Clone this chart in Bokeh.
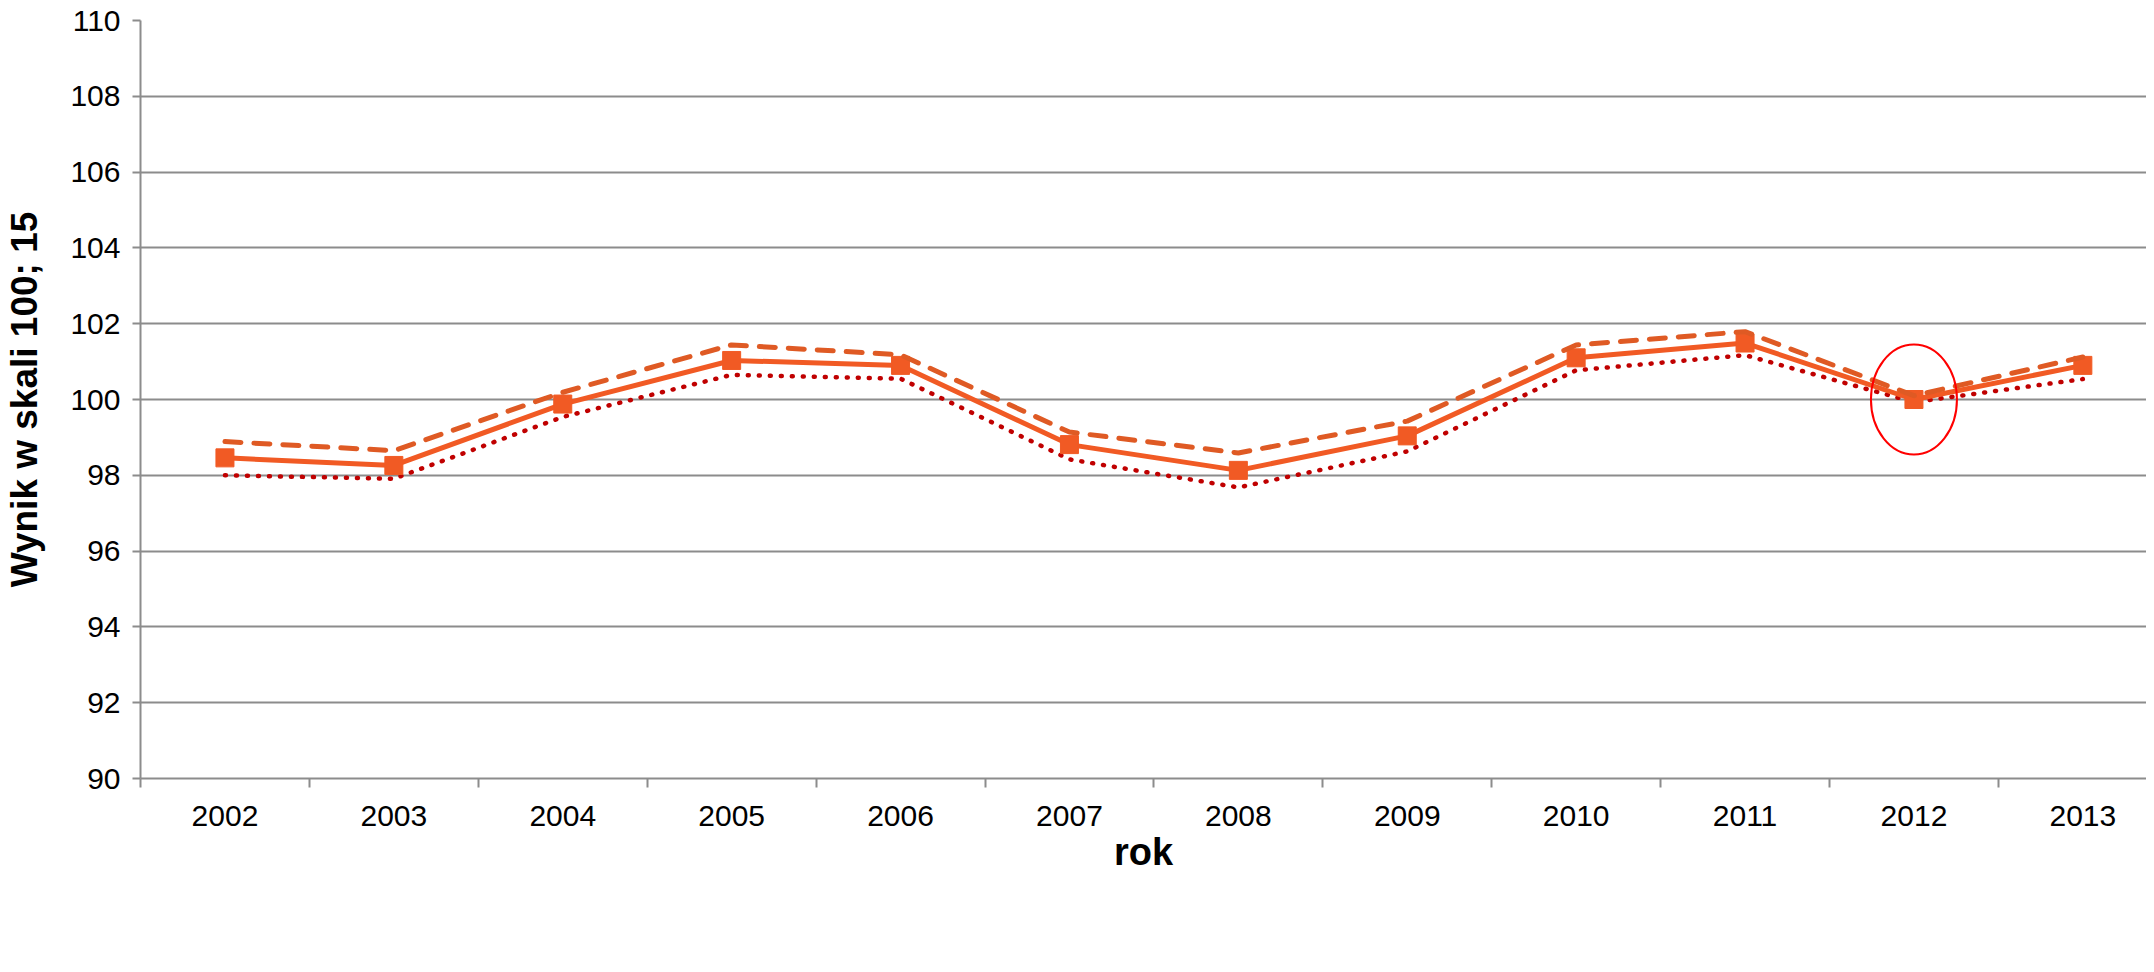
from bokeh.plotting import figure
from bokeh.models import (Range1d, FixedTicker, Legend, LegendItem, ColumnDataSource)
from bokeh.embed import file_html
from bokeh.resources import INLINE

# ---- data ----
years = ["2002", "2003", "2004", "2005", "2006", "2007",
         "2008", "2009", "2010", "2011", "2012", "2013"]
srednia = [98.46, 98.26, 99.88, 101.03, 100.90, 98.81,
           98.13, 99.04, 101.10, 101.49, 100.00, 100.90]
maks = [98.89, 98.65, 100.19, 101.44, 101.18, 99.14,
        98.59, 99.43, 101.44, 101.79, 100.10, 101.12]
minimum = [98.00, 97.91, 99.54, 100.65, 100.55, 98.42,
           97.68, 98.63, 100.77, 101.17, 99.93, 100.54]
y_ticks = [90, 92, 94, 96, 98, 100, 102, 104, 106, 108, 110]
highlight_year = "2012"

FONT = "Liberation Sans"
GRID = "#8c8c8c"

xc = [i + 0.5 for i in range(len(years))]
src = ColumnDataSource(dict(x=xc, mean=srednia, mx=maks, mn=minimum))

frame_w = 2006
cat_px = 168.9

p = figure(frame_width=frame_w, frame_height=758,
           min_border_left=140, min_border_right=0, min_border_top=20,
           min_border_bottom=0,
           x_range=Range1d(0, frame_w / cat_px), y_range=Range1d(y_ticks[0], y_ticks[-1]),
           output_backend="svg", toolbar_location=None,
           background_fill_color="white", border_fill_color="white")
p.outline_line_color = None

# y axis
p.yaxis.ticker = FixedTicker(ticks=y_ticks)
p.yaxis.axis_line_color = GRID
p.yaxis.axis_line_width = 2
p.yaxis.major_tick_line_color = GRID
p.yaxis.major_tick_line_width = 2
p.yaxis.major_tick_out = 8
p.yaxis.major_tick_in = 0
p.yaxis.minor_tick_line_color = None
p.yaxis.major_label_text_font = FONT
p.yaxis.major_label_text_font_size = "30px"
p.yaxis.major_label_text_color = "black"
p.yaxis.major_label_standoff = 12
p.yaxis.axis_label = "Wynik w skali 100; 15"
p.yaxis.axis_label_text_font = FONT
p.yaxis.axis_label_text_font_style = "bold"
p.yaxis.axis_label_text_font_size = "37px"
p.yaxis.axis_label_text_color = "black"
p.yaxis.axis_label_standoff = 22

# x axis: labels at category centres, tick marks at boundaries
p.xaxis.ticker = FixedTicker(ticks=xc, minor_ticks=list(range(len(years) + 1)))
p.xaxis.major_label_overrides = {x: y for x, y in zip(xc, years)}
p.xaxis.axis_line_color = GRID
p.xaxis.axis_line_width = 2
p.xaxis.major_tick_line_color = None
p.xaxis.major_tick_out = 0
p.xaxis.major_tick_in = 0
p.xaxis.minor_tick_line_color = GRID
p.xaxis.minor_tick_line_width = 2
p.xaxis.minor_tick_out = 9
p.xaxis.minor_tick_in = 0
p.xaxis.major_label_text_font = FONT
p.xaxis.major_label_text_font_size = "30px"
p.xaxis.major_label_text_color = "black"
p.xaxis.major_label_standoff = 18
p.xaxis.axis_label = "rok"
p.xaxis.axis_label_text_font = FONT
p.xaxis.axis_label_text_font_style = "bold"
p.xaxis.axis_label_text_font_size = "38px"
p.xaxis.axis_label_text_color = "black"
p.xaxis.axis_label_standoff = 2

p.xgrid.grid_line_color = None
p.ygrid.ticker = FixedTicker(ticks=y_ticks)
p.ygrid.grid_line_color = GRID
p.ygrid.grid_line_width = 2

# series
r_min = p.line("x", "mn", source=src, line_color="#c00000", line_width=4.5,
               line_dash="1 10", line_cap="round")
r_mean = p.line("x", "mean", source=src, line_color="#f15a24", line_width=5)
r_sq = p.scatter("x", "mean", source=src, marker="square", size=18,
                 fill_color="#f15a24", line_color="#f15a24")
r_max = p.line("x", "mx", source=src, line_color="#df5a24", line_width=5,
               line_dash="16 13", line_cap="round")

# highlight ellipse around 2012
hi = years.index(highlight_year)
p.ellipse(x=[xc[hi]], y=[srednia[hi]], width=86, height=110,
          width_units="screen", height_units="screen",
          fill_color=None, line_color="#ff0000", line_width=2)

legend = Legend(items=[
    LegendItem(label="min. przedziału ufności", renderers=[r_min]),
    LegendItem(label="średnia", renderers=[r_mean, r_sq]),
    LegendItem(label="maks. przedziału ufności", renderers=[r_max]),
], orientation="horizontal", location="center",
    label_text_font=FONT, label_text_font_size="34px", label_text_color="black",
    glyph_width=62, glyph_height=30, label_height=30, label_standoff=20,
    spacing=70, padding=0, border_line_color=None,
    background_fill_alpha=0)
legend.margin = 0
p.add_layout(legend, "below")

open("out.html", "w").write(file_html(p, INLINE))
